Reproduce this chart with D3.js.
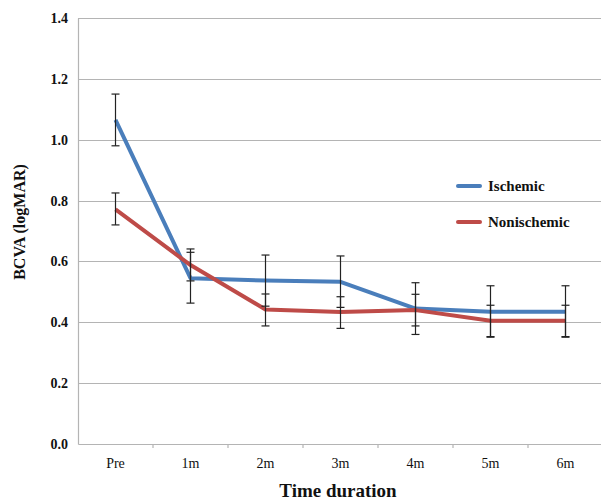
<!DOCTYPE html>
<html>
<head>
<meta charset="utf-8">
<script src="https://cdn.jsdelivr.net/npm/d3@7"></script>
<style>
  body { margin: 0; background: #fff; }
  svg { display: block; font-family: "Liberation Serif", "Times New Roman", serif; }
</style>
</head>
<body>
<div id="chart-area"></div>
<script>
// Data
var categories = ["Pre", "1m", "2m", "3m", "4m", "5m", "6m"];
var yTicks = [0, 0.2, 0.4, 0.6, 0.8, 1.0, 1.2, 1.4];

var ischemic     = [1.065, 0.545, 0.537, 0.533, 0.445, 0.435, 0.435];
var ischemicLow  = [0.98, 0.463, 0.453, 0.449, 0.360, 0.351, 0.351];
var ischemicHigh = [1.15, 0.630, 0.621, 0.618, 0.530, 0.520, 0.520];

var nonischemic     = [0.771, 0.588, 0.442, 0.434, 0.440, 0.405, 0.405];
var nonischemicLow  = [0.720, 0.536, 0.388, 0.380, 0.388, 0.353, 0.353];
var nonischemicHigh = [0.825, 0.641, 0.493, 0.484, 0.492, 0.456, 0.456];

var seriesNames = ["Ischemic", "Nonischemic"];
var seriesColors = ["#4a7ebb", "#be4b48"];

var width = 601;
var height = 500;
var margin = {left: 78, right: -2, top: 18, bottom: 56};

var svg = d3.select("#chart-area").append("svg")
  .attr("width", width)
  .attr("height", height);

// Scales
var x = d3.scaleBand()
  .domain(categories)
  .range([margin.left, width - margin.right]);

var y = d3.scaleLinear()
  .domain([0, 1.4])
  .range([height - margin.bottom, margin.top]);

// Gridlines
svg.append("g")
  .selectAll("line")
  .data(yTicks.slice(1))
  .enter().append("line")
  .attr("x1", margin.left)
  .attr("x2", width)
  .attr("y1", function(d){ return Math.round(y(d)) + 0.5; })
  .attr("y2", function(d){ return Math.round(y(d)) + 0.5; })
  .attr("stroke", "#b4b4b4")
  .attr("stroke-width", 1.2);

// Y axis
var yAxis = d3.axisLeft(y)
  .tickValues(yTicks)
  .tickSize(0)
  .tickPadding(10)
  .tickFormat(d3.format(".1f"));

var yg = svg.append("g")
  .attr("transform", "translate(" + margin.left + ",0)")
  .call(yAxis);
yg.select(".domain").attr("stroke", "#b4b4b4").attr("stroke-width", 1.2);
yg.selectAll("text")
  .attr("font-family", "Liberation Serif")
  .attr("font-weight", "bold")
  .attr("font-size", 14)
  .attr("fill", "#111");

// X axis
var xAxis = d3.axisBottom(x)
  .tickSize(0)
  .tickPadding(14);

var xg = svg.append("g")
  .attr("transform", "translate(0," + y(0) + ")")
  .call(xAxis);
xg.select(".domain").attr("stroke", "#b4b4b4").attr("stroke-width", 1.2);
xg.selectAll("text")
  .attr("font-family", "Liberation Serif")
  .attr("font-size", 14)
  .attr("fill", "#111");

// small tick marks between categories
xg.append("g")
  .selectAll("line")
  .data(categories.slice(1))
  .enter().append("line")
  .attr("x1", function(d){ return x(d); })
  .attr("x2", function(d){ return x(d); })
  .attr("y1", 0)
  .attr("y2", 4)
  .attr("stroke", "#b4b4b4")
  .attr("stroke-width", 1.2);

// Axis titles
svg.append("text")
  .attr("x", 338)
  .attr("y", 497)
  .attr("text-anchor", "middle")
  .attr("font-weight", "bold")
  .attr("font-size", 19)
  .attr("fill", "#111")
  .text("Time duration");

svg.append("text")
  .attr("transform", "translate(25,222) rotate(-90)")
  .attr("text-anchor", "middle")
  .attr("font-weight", "bold")
  .attr("font-size", 16)
  .attr("fill", "#111")
  .text("BCVA (logMAR)");

// Lines
var line = d3.line()
  .x(function(d, i){ return x(categories[i]) + x.bandwidth() / 2; })
  .y(function(d){ return y(d); });

var allSeries = [
  {name: seriesNames[0], values: ischemic, low: ischemicLow, high: ischemicHigh, color: seriesColors[0]},
  {name: seriesNames[1], values: nonischemic, low: nonischemicLow, high: nonischemicHigh, color: seriesColors[1]}
];

allSeries.forEach(function(s){
  svg.append("path")
    .datum(s.values)
    .attr("d", line)
    .attr("fill", "none")
    .attr("stroke", s.color)
    .attr("stroke-width", 4)
    .attr("stroke-linejoin", "round");
});

// Error bars
allSeries.forEach(function(s){
  var g = svg.append("g").attr("stroke", "#222").attr("stroke-width", 1.2);
  s.values.forEach(function(v, i){
    var cx = x(categories[i]) + x.bandwidth() / 2;
    g.append("line")
      .attr("x1", cx).attr("x2", cx)
      .attr("y1", y(s.low[i])).attr("y2", y(s.high[i]));
    [s.low[i], s.high[i]].forEach(function(e){
      g.append("line")
        .attr("x1", cx - 4).attr("x2", cx + 4)
        .attr("y1", y(e)).attr("y2", y(e));
    });
  });
});

// Legend
var legend = svg.append("g").attr("class", "legend");
allSeries.forEach(function(s, i){
  var ly = 186 + i * 36;
  legend.append("line")
    .attr("x1", 458).attr("x2", 480)
    .attr("y1", ly).attr("y2", ly)
    .attr("stroke", s.color)
    .attr("stroke-width", 4)
    .attr("stroke-linecap", "round");
  legend.append("text")
    .attr("x", 488)
    .attr("y", ly + 5)
    .attr("font-weight", "bold")
    .attr("font-size", 15)
    .attr("fill", "#111")
    .text(s.name);
});
</script>
</body>
</html>
